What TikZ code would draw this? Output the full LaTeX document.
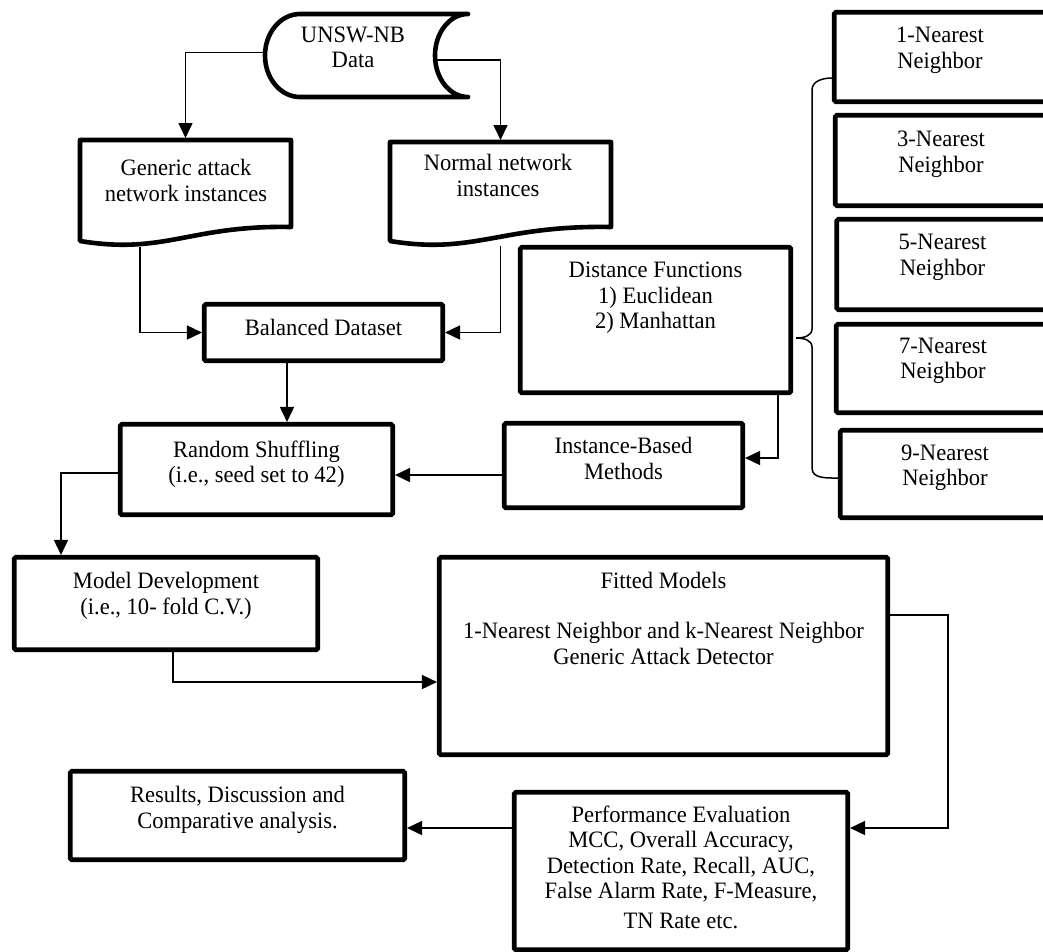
\documentclass[tikz,border=0pt]{standalone}
\usepackage{fontspec}
\setmainfont[FakeStretch=0.96]{Liberation Serif}
\usetikzlibrary{arrows.meta,calc}
\pgfdeclarelayer{bg}
\pgfsetlayers{bg,main}
\tikzset{
  box/.style={draw=black, line width=4.6pt, fill=white, rounded corners=1.5pt, inner sep=0pt},
  area/.style={inner sep=0pt, outer sep=0pt},
  txt/.style={font=\fontsize{23.5}{25.5}\selectfont, align=center, inner sep=0pt},
  conn/.style={line width=1.6pt, -{Triangle[length=15pt,width=14pt]}},
  link/.style={line width=1.5pt},
  shapeline/.style={draw=black, line width=4.6pt, fill=white, line join=round, line cap=round},
}
\begin{document}
\begin{tikzpicture}[x=1pt,y=-1pt]
\useasboundingbox (0,0) rectangle (1043,951);

% data source (stored data shape)
\node[area, minimum width=205pt, minimum height=87pt] (data) at (365.5,55.5) {};
\draw[shapeline] (300,14) -- (468,14)
  arc[start angle=90, end angle=270, x radius=33pt, y radius=41.5pt]
  -- (300,97)
  arc[start angle=270, end angle=90, x radius=35pt, y radius=41.5pt] -- cycle;
\node[txt] (data-t) at (353,47.5) {UNSW-NB\\Data};
\coordinate (dataR) at (435,60);

% document shapes
\node[area, minimum width=215pt, minimum height=109pt] (gen) at (185.5,192.5) {};
\draw[shapeline] (80,140) -- (291,140) -- (291,227)
  .. controls (190,225) and (165,255) .. (80,241) -- cycle;
\node[txt] (gen-t) at (186,180.5) {Generic attack\\network instances};

\node[area, minimum width=225pt, minimum height=106pt] (norm) at (500.5,193) {};
\draw[shapeline] (390,142) -- (611,142) -- (611,227)
  .. controls (500,225) and (475,255) .. (390,241) -- cycle;
\node[txt] (norm-t) at (498,175.3) {Normal network\\instances};

% rectangular boxes
\node[box, minimum width=238.5pt, minimum height=56.5pt] (bal) at (323.5,332.5) {};
\node[txt] (bal-t) at ([yshift=5.2pt]bal.center) {Balanced Dataset};

\node[box, minimum width=270.5pt, minimum height=145.5pt] (dist) at (655.5,320) {};
\node[txt] (dist-t) at ([yshift=22pt]dist.center) {Distance Functions\\1) Euclidean\\2) Manhattan};

\node[box, minimum width=238.5pt, minimum height=84.5pt] (inst) at (623.5,465.5) {};
\node[txt] (inst-t) at ([yshift=7pt]inst.center) {Instance-Based\\Methods};

\node[box, minimum width=272.5pt, minimum height=90.5pt] (rand) at (256.5,469.5) {};
\node[txt] (rand-t) at ([yshift=5.5pt]rand.center) {Random Shuffling\\(i.e., seed set to 42)};

\node[box, minimum width=303.5pt, minimum height=92.5pt] (model) at (166,603.5) {};
\node[txt] (model-t) at ([yshift=7.5pt]model.center) {Model Development\\(i.e., 10- fold C.V.)};

\node[box, minimum width=448.5pt, minimum height=197.5pt] (fit) at (663.5,656) {};
\node[txt] (fit-t) at ([yshift=38pt]fit.center) {Fitted Models\\[25pt]1-Nearest Neighbor and k-Nearest Neighbor\\Generic Attack Detector};

\node[box, minimum width=334.5pt, minimum height=88.5pt] (res) at (237.5,815.5) {};
\node[txt] (res-t) at ([yshift=5.7pt]res.center) {Results, Discussion and\\Comparative analysis.};

\node[box, minimum width=333.5pt, minimum height=157.5pt] (perf) at (681,871) {};
\node[txt] (perf-t) at ([yshift=3.7pt]perf.center) {Performance Evaluation\\MCC, Overall Accuracy,\\Detection Rate, Recall, AUC,\\False Alarm Rate, F-Measure,\\[4pt]TN Rate etc.};

% k-NN boxes
\node[box, minimum width=211.5pt, minimum height=89.5pt] (nn1) at (940,57) {};
\node[txt] (nn1-t) at ([yshift=6.5pt]nn1.center) {1-Nearest\\Neighbor};
\node[box, minimum width=211.5pt, minimum height=90.5pt] (nn3) at (941,160.5) {};
\node[txt] (nn3-t) at ([yshift=6.5pt]nn3.center) {3-Nearest\\Neighbor};
\node[box, minimum width=211.5pt, minimum height=90.5pt] (nn5) at (942.5,264.5) {};
\node[txt] (nn5-t) at ([yshift=7pt]nn5.center) {5-Nearest\\Neighbor};
\node[box, minimum width=213.5pt, minimum height=88.5pt] (nn7) at (943,368.5) {};
\node[txt] (nn7-t) at ([yshift=7.7pt]nn7.center) {7-Nearest\\Neighbor};
\node[box, minimum width=209.5pt, minimum height=87.5pt] (nn9) at (945,474) {};
\node[txt] (nn9-t) at ([yshift=6.5pt]nn9.center) {9-Nearest\\Neighbor};

\begin{pgfonlayer}{bg}
  \fill[white] (0,0) rectangle (1043,951);
  \draw[conn] ([yshift=3pt]data.west) -| (gen.north);
  \draw[conn] (dataR) -| (norm.north);
  \draw[conn] ([xshift=-45.5pt]gen.south) |- (bal.west);
  \draw[conn] (norm.south) |- (bal.east);
  \draw[conn] ([xshift=-36.5pt]bal.south) -- ([xshift=-36.5pt]bal.south |- rand.north);
  \draw[conn] ([xshift=122.5pt]dist.south) |- ([yshift=7.5pt]inst.east);
  \draw[conn] ([yshift=-9.5pt]inst.west) -- ([yshift=-9.5pt]inst.west -| rand.east);
  \draw[conn] ([yshift=-3.5pt]rand.west) -| ([xshift=-105pt]model.north);
  \draw[conn] ([xshift=7pt]model.south) |- ([yshift=-26pt]fit.west);
  \draw[conn] ([yshift=41pt]fit.east) -- ++(58,0) |- ([yshift=43pt]perf.east);
  \draw[conn] ([yshift=43pt]perf.west) -- ([yshift=43pt]perf.west -| res.east);
  % brace grouping the k-NN boxes
  \draw[link] ([yshift=-21pt]nn1.west) to[out=180,in=90] (812,90) -- (812,329)
    to[out=-90,in=0] ([xshift=3pt,yshift=-18pt]dist.east)
    to[out=0,in=90] (812,347) -- (812,468)
    to[out=-90,in=180] ([yshift=-4pt]nn9.west);
\end{pgfonlayer}
\end{tikzpicture}
\end{document}
